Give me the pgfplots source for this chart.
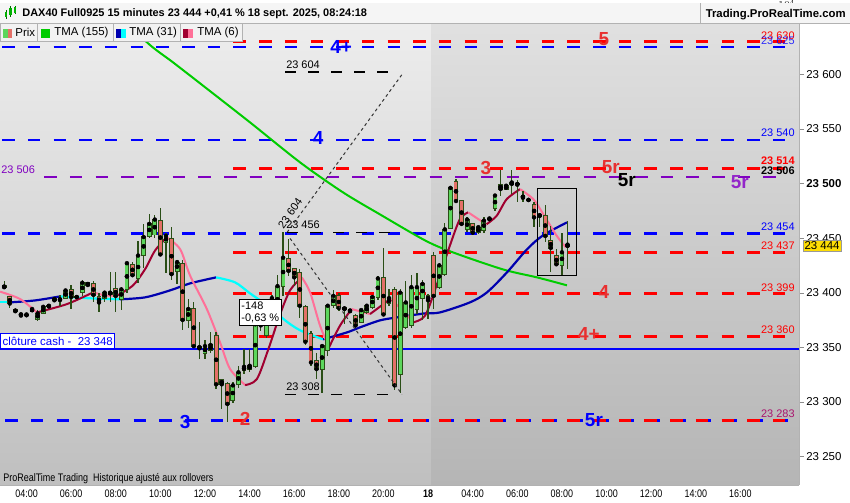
\documentclass[border=0pt]{standalone}
\usepackage{pgfplots}
\pgfplotsset{compat=1.18}
\usepackage{pgfplotstable}
\usepackage{fontspec}
\setmainfont{Liberation Sans}
\newfontfamily\narrow[FakeStretch=0.82]{Liberation Sans}

\definecolor{upfill}{RGB}{92,214,92}
\definecolor{dnfill}{RGB}{228,112,104}
\definecolor{wick}{RGB}{42,78,22}
\definecolor{lvblue}{RGB}{0,0,255}
\definecolor{lvred}{RGB}{255,0,0}
\definecolor{lvpurple}{RGB}{128,0,192}
\definecolor{tmag}{RGB}{0,204,0}
\definecolor{tmab}{RGB}{0,0,175}
\definecolor{tmac}{RGB}{0,255,255}
\definecolor{tmar}{RGB}{160,0,48}
\definecolor{tmap}{RGB}{255,112,152}
\definecolor{lblred}{RGB}{232,48,48}
\definecolor{mix}{RGB}{170,20,110}

% 15-minute candles, i = bar index (03:00 on the 17th = 0)
\pgfplotstableread{
i o h l c
0 23406 23411 23403 23405
1 23396 23397 23386 23390
2 23384 23385 23382 23383
3 23381 23381 23378 23379
4 23379 23381 23378 23380
5 23383 23386 23382 23385
6 23376 23384 23374 23381
7 23381 23388 23380 23387
8 23387 23389 23386 23388
9 23395 23396 23392 23393
10 23393 23398 23388 23394
11 23395 23403 23394 23402
12 23403 23407 23385 23396
13 23396 23397 23395 23396
14 23400 23412 23397 23409
15 23409 23410 23406 23407
16 23408 23411 23391 23398
17 23396 23400 23382 23391
18 23395 23401 23391 23400
19 23399 23419 23391 23400
20 23404 23419 23382 23397
21 23394 23405 23384 23403
22 23403 23428 23400 23427
23 23426 23428 23414 23416
24 23413 23447 23409 23434
25 23434 23463 23423 23451
26 23452 23472 23450 23463
27 23453 23471 23450 23467
28 23466 23478 23434 23435
29 23446 23455 23418 23452
30 23450 23460 23412 23417
31 23420 23430 23408 23428
32 23427 23430 23366 23375
33 23375 23394 23368 23385
34 23385 23391 23350 23351
35 23351 23373 23339 23349
36 23344 23357 23339 23351
37 23347 23364 23345 23352
38 23361 23364 23312 23316
39 23320 23321 23293 23316
40 23317 23318 23281 23298
41 23301 23318 23299 23315
42 23316 23333 23313 23327
43 23329 23348 23325 23332
44 23330 23348 23327 23333
45 23333 23382 23331 23371
46 23382 23385 23365 23370
47 23361 23386 23358 23383
48 23383 23398 23380 23395
49 23382 23416 23379 23406
50 23406 23456 23397 23432
51 23431 23449 23415 23420
52 23422 23423 23406 23414
53 23418 23422 23377 23388
54 23387 23389 23352 23355
55 23362 23365 23333 23336
56 23338 23345 23321 23330
57 23330 23353 23308 23351
58 23347 23390 23342 23388
59 23388 23402 23386 23397
60 23397 23400 23383 23386
61 23386 23387 23371 23385
62 23384 23385 23381 23383
63 23379 23380 23368 23370
64 23373 23385 23372 23384
65 23382 23390 23380 23388
66 23387 23398 23385 23396
67 23396 23415 23393 23413
68 23414 23441 23379 23380
69 23390 23403 23388 23395
70 23403 23405 23311 23315
71 23325 23403 23308 23400
72 23368 23411 23367 23391
73 23370 23416 23368 23405
74 23385 23418 23380 23405
75 23395 23412 23375 23408
76 23397 23399 23376 23393
77 23434 23437 23385 23397
78 23405 23427 23403 23425
79 23417 23464 23415 23458
80 23459 23498 23458 23496
81 23502 23504 23482 23484
82 23484 23485 23461 23463
83 23458 23469 23456 23467
84 23463 23464 23453 23455
85 23455 23461 23454 23460
86 23457 23469 23455 23466
87 23467 23469 23466 23468
88 23477 23490 23475 23489
89 23499 23512 23489 23495
90 23495 23500 23494 23498
91 23499 23512 23490 23501
92 23500 23503 23483 23499
93 23489 23493 23483 23487
94 23485 23486 23484 23485
95 23481 23483 23460 23469
96 23470 23472 23460 23471
97 23471 23480 23446 23452
98 23448 23461 23419 23441
99 23434 23440 23424 23426
100 23425 23455 23416 23437
101 23442 23466 23422 23444
}\candles

\begin{document}
\begin{tikzpicture}
\begin{scope}[x=1bp,y=1bp]
\useasboundingbox (0,0) rectangle (850,500);
\fill[white] (0,0) rectangle (850,500);
\shade[top color=black!7, bottom color=black!25] (0,17.3) rectangle (431,479);
\shade[top color=black!12, bottom color=black!29] (431,17.3) rectangle (799,479);
\end{scope}

\begin{axis}[
  at={(0bp,17.3bp)}, anchor=south west,
  width=799bp, height=461.7bp, scale only axis,
  xmin=-0.717, xmax=142.47, ymin=23223.7, ymax=23646.7,
  axis x line*=bottom, axis y line*=right,
  axis line style={draw=black!30, -},
  xtick={4,12,20,28,36,44,52,60,68,76,84,92,100,108,116,124,132},
  xticklabels={04:00,06:00,08:00,10:00,12:00,14:00,16:00,18:00,20:00,\textbf{18},04:00,06:00,08:00,10:00,12:00,14:00,16:00},
  xtick style={draw=none},
  x tick label style={font=\narrow\fontsize{11}{12}\selectfont, anchor=base, yshift=-12.5bp},
  ytick={23250,23300,23350,23400,23450,23500,23550,23600},
  yticklabels={23 250,23 300,23 350,23 400,23 450,\textbf{23 500},23 550,23 600},
  ytick align=outside, major tick length=5bp,
  ytick style={draw=black!45},
  y tick label style={font=\fontsize{11.5}{13}\selectfont, anchor=west, xshift=-1bp},
  clip=true,
]
% level lines
\addplot[lvblue, line width=2.5bp, dash pattern=on 12.5bp off 13.2bp, dash phase=23.7bp] coordinates {(-0.717,23625) (140.5,23625)};
\addplot[lvblue, line width=2.5bp, dash pattern=on 12.5bp off 13.2bp, dash phase=23.7bp] coordinates {(-0.717,23540) (140.5,23540)};
\addplot[lvblue, line width=2.5bp, dash pattern=on 12.5bp off 13.2bp, dash phase=23.7bp] coordinates {(-0.717,23454) (140.5,23454)};
\addplot[lvblue, line width=2.5bp, dash pattern=on 12.5bp off 13.2bp, dash phase=20.7bp] coordinates {(-0.717,23283) (140.5,23283)};
\addplot[lvred, line width=2.5bp, dash pattern=on 12.5bp off 13.2bp] coordinates {(41.1,23630) (140.5,23630)};
\addplot[lvred, line width=2.5bp, dash pattern=on 12.5bp off 13.2bp] coordinates {(41.1,23514) (140.5,23514)};
\addplot[lvred, line width=2.5bp, dash pattern=on 12.5bp off 13.2bp] coordinates {(41.1,23437) (140.5,23437)};
\addplot[lvred, line width=2.5bp, dash pattern=on 12.5bp off 13.2bp] coordinates {(41.1,23399) (140.5,23399)};
\addplot[lvred, line width=2.5bp, dash pattern=on 12.5bp off 13.2bp] coordinates {(41.1,23360) (140.5,23360)};
\addplot[lvred, line width=2.5bp, dash pattern=on 12.5bp off 13.2bp] coordinates {(41.1,23283) (140.5,23283)};
\addplot[lvpurple, line width=2.5bp, dash pattern=on 12.5bp off 13.2bp] coordinates {(7.17,23506) (140.5,23506)};
\addplot[lvblue, line width=2bp] coordinates {(-0.717,23348) (142.47,23348)};

% TMA (155)
\addplot[tmag, line width=2bp, smooth] coordinates {
(20.79,23656.8) (25.63,23629.3) (30.29,23611) (35.13,23591.8) (44.09,23556) (53.05,23519.4)
(60.75,23491.9) (67.38,23471.7) (75.45,23447.9) (80.47,23436.9) (89.43,23421.3) (95.52,23414) (100.9,23406.7)};

% TMA (31)
\addplot[tmac, line width=2.2bp, smooth] coordinates {(-0.72,23391.1) (1.08,23391.1)};
\addplot[tmab, line width=2.2bp, smooth] coordinates {(1.08,23391.1) (5.56,23392.9) (10.04,23396.6)};
\addplot[tmac, line width=2.2bp, smooth] coordinates {(10.04,23396.6) (15.41,23394.8) (20.79,23393.9)};
\addplot[tmab, line width=2.2bp, smooth] coordinates {(20.79,23393.9) (25.27,23395.7) (29.75,23402.1) (33.33,23408.5) (37.99,23414)};
\addplot[tmac, line width=2.2bp, smooth] coordinates {(37.99,23414) (41.4,23409.4) (44.09,23399.3) (47.67,23386.5) (50.36,23374.6) (53.05,23365.5) (57.17,23357.2)};
\addplot[tmab, line width=2.2bp, smooth] coordinates {(57.17,23357.2) (61.47,23363.6) (63.8,23368.2) (67.38,23374.6) (70.43,23377.3) (75.45,23381) (78.14,23381.9)
 (83.51,23391.1) (86.56,23400.3) (90.14,23418.6) (93.73,23439.7) (96.6,23452.5) (100.9,23464.4)};

% TMA (6)
\addplot[tmap, line width=2bp, smooth] coordinates {(-0.72,23400.9) (2.87,23394.1) (5.86,23381.9)};
\addplot[tmar, line width=2bp, smooth] coordinates {(5.86,23381.9) (11.24,23389.5) (15.95,23400.3)};
\addplot[tmap, line width=2bp, smooth] coordinates {(15.95,23400.3) (18.1,23397.5) (20.2,23397.2)};
\addplot[tmar, line width=2bp, smooth] coordinates {(20.2,23397.2) (23.1,23406.7) (25.27,23421.6) (27.06,23438.7) (29.16,23450.7)};
\addplot[tmap, line width=2bp, smooth] coordinates {(29.16,23450.7) (31.54,23439.9) (33.33,23415.6) (36.33,23385) (38.7,23354.4) (40.5,23330) (43.2,23315.3)};
\addplot[tmar, line width=2bp, smooth] coordinates {(43.2,23315.3) (45.3,23320.8) (47.37,23348.3) (49.46,23380.1) (51.25,23402.1) (53.35,23414)};
\addplot[tmap, line width=2bp, smooth] coordinates {(53.35,23414) (54.84,23400.3) (56.63,23369.7) (58.24,23349.9)};
\addplot[tmar, line width=2bp, smooth] coordinates {(58.24,23349.9) (60.2,23369.7) (62.3,23385)};
\addplot[tmap, line width=2bp, smooth] coordinates {(62.3,23385) (63.8,23382.8) (65.6,23380.4)};
\addplot[tmar, line width=2bp, smooth] coordinates {(65.6,23380.4) (69.2,23394.1)};
\addplot[tmap, line width=2bp, smooth] coordinates {(69.2,23394.1) (71.5,23383.5) (73.3,23372.8)};
\addplot[tmar, line width=2bp, smooth] coordinates {(73.3,23372.8) (75.45,23378.9) (77.5,23406.4) (79.9,23443) (81.7,23467.4) (83.2,23473.6)};
\addplot[tmap, line width=2bp, smooth] coordinates {(83.2,23473.6) (85,23467.4) (86.5,23462.8)};
\addplot[tmar, line width=2bp, smooth] coordinates {(86.5,23462.8) (88.3,23470.5) (90.1,23485.7) (92.5,23494.9)};
\addplot[tmap, line width=2bp, smooth] coordinates {(92.5,23494.9) (94.86,23485.7) (96.65,23472) (99.05,23452.2) (100.7,23441.5)};

% candles: wicks, body outlines, body fills
\addplot[only marks, mark=none, error bars/.cd, y dir=both, y explicit, error mark=none,
  error bar style={line width=1.3bp, draw=wick}]
  table[x=i, y=c, y error plus expr=\thisrow{h}-\thisrow{c}, y error minus expr=\thisrow{c}-\thisrow{l}] {\candles};
\addplot[only marks, mark=none, error bars/.cd, y dir=both, y explicit, error mark=none,
  error bar style={line width=4.8bp, draw=wick}]
  table[x=i, y expr=(\thisrow{o}+\thisrow{c})/2, y error expr=abs(\thisrow{c}-\thisrow{o})/2+0.6] {\candles};
\addplot[only marks, mark=none, restrict expr to domain={\thisrow{c}-\thisrow{o}}{0.5:1000},
  error bars/.cd, y dir=both, y explicit, error mark=none,
  error bar style={line width=3bp, draw=upfill}]
  table[x=i, y expr=(\thisrow{o}+\thisrow{c})/2, y error expr=abs(\thisrow{c}-\thisrow{o})/2-0.3] {\candles};
\addplot[only marks, mark=none, restrict expr to domain={\thisrow{o}-\thisrow{c}}{0.5:1000},
  error bars/.cd, y dir=both, y explicit, error mark=none,
  error bar style={line width=3bp, draw=dnfill}]
  table[x=i, y expr=(\thisrow{o}+\thisrow{c})/2, y error expr=abs(\thisrow{c}-\thisrow{o})/2-0.3] {\candles};
\end{axis}

\begin{scope}[x=1bp,y=1bp]
% measuring tool
\draw[black!80, line width=1bp, dash pattern=on 3bp off 3bp] (287,270) -- (402,428);
\draw[black!80, line width=1bp, dash pattern=on 3bp off 3bp] (290,264) -- (402,108);
\draw[black, line width=1.2bp, dash pattern=on 11bp off 12bp] (285,430.5) -- (395,430.5);
\draw[black, line width=1.2bp, dash pattern=on 11bp off 12bp] (287,270) -- (400,270);
\draw[black, line width=1.2bp, dash pattern=on 11bp off 12bp] (285,108) -- (400,108);
\begin{scope}[font=\fontsize{11}{12}\selectfont]
\node[anchor=west, inner sep=0] at (286,438) {23 604};
\node[anchor=west, inner sep=0] at (286,278) {23 456};
\node[anchor=west, inner sep=0] at (286,116) {23 308};
\node[rotate=55, inner sep=0] at (290,289) {23 604};
\end{scope}

% boxes
\node[draw=black, fill=white, line width=0.8bp, align=left, inner sep=2bp, anchor=north west,
  font=\fontsize{11}{12.5}\selectfont] at (239,203) {-148\\-0,63 \%};
\node[draw=lvblue, fill=white, line width=1bp, inner sep=2bp, anchor=south west, text=lvblue,
  font=\fontsize{11.5}{13}\selectfont, minimum height=15bp] at (0,153) {clôture cash -\ \ 23 348};
\draw[black, line width=1bp] (538,227) rectangle (577,314);

% level labels on the right
\begin{scope}[font=\fontsize{11}{12}\selectfont, inner sep=0]
\node[anchor=east, text=lvred] at (795,467) {23 630};
\node[anchor=east, text=lvblue, opacity=0.8] at (795,462) {23 625};
\node[anchor=east, text=lvblue] at (795,370) {23 540};
\node[anchor=east, text=lvred] at (795,342) {\bfseries 23 514};
\node[anchor=east, text=black] at (795,332) {\bfseries 23 506};
\node[anchor=east, text=lvblue] at (795,276) {23 454};
\node[anchor=east, text=lvred] at (795,257) {23 437};
\node[anchor=east, text=lvred] at (795,215) {23 399};
\node[anchor=east, text=lvred] at (795,173) {23 360};
\node[anchor=east, text=mix] at (795,89) {23 283};
\node[anchor=west, text=lvpurple] at (1,333) {23 506};
\end{scope}

% wave labels
\begin{scope}[font=\bfseries\fontsize{19}{20}\selectfont, inner sep=0]
\node[text=lvblue] at (341,456) {4+};
\node[text=lblred] at (604,463) {5};
\node[text=lvblue] at (318,364) {4};
\node[text=lblred] at (486,334) {3};
\node[text=lblred] at (611,335) {5r};
\node[text=black] at (627,322) {5r};
\node[text=lvpurple!85!white] at (740,320) {5r};
\node[text=lblred] at (604,210) {4};
\node[text=lblred] at (589,168) {4+};
\node[text=lvblue] at (185,80) {3};
\node[text=lblred] at (245,83) {2};
\node[text=lvblue] at (594,82) {5r};
\end{scope}

% current price tag
\node[fill=yellow!80!orange, draw=black!40, inner sep=1.5bp, anchor=west,
  font=\fontsize{11.5}{13}\selectfont] at (803,256.5) {23 444};

% bottom note
\node[anchor=west, inner sep=0, font=\narrow\fontsize{11}{12}\selectfont] at (3,24) {ProRealTime Trading\ \ Historique ajusté aux rollovers};

% header
\fill[black!4] (0,479) rectangle (850,500);
\draw[black!30] (0,479) -- (850,479);
\draw[black!30] (700,479) -- (700,500);
\foreach \xx/\lo/\hi/\bl/\bh in {6/484/493/486/491, 10.5/486/497/488/495, 15/489/497/490/496}
  {\draw[black!60!green, line width=0.8bp] (\xx,\lo) -- (\xx,\hi);
   \fill[green!70!black] (\xx-1.3,\bl) rectangle (\xx+1.3,\bh);}
\node[anchor=west, inner sep=0, font=\bfseries\fontsize{11}{13}\selectfont] at (22,489) {DAX40 Full0925 15 minutes 23 444 +0,41 \% 18 sept. 2025, 08:24:18};
\node[anchor=east, inner sep=0, font=\bfseries\fontsize{11.4}{13}\selectfont] at (846,488) {Trading.ProRealTime.com};

% legend row
\begin{scope}[font=\fontsize{11.5}{13}\selectfont]
\filldraw[fill=black!5, draw=black!30] (0,461) rectangle (37,479);
\filldraw[fill=black!5, draw=black!30] (37,461) rectangle (113,479);
\filldraw[fill=black!5, draw=black!30] (113,461) rectangle (180,479);
\filldraw[fill=black!5, draw=black!30] (180,461) rectangle (242,479);
\fill[upfill] (3,465) rectangle (7.5,474); \fill[dnfill] (7.5,465) rectangle (12,474);
\fill[tmag] (41,465) rectangle (50,474);
\fill[tmab] (116,465) rectangle (121,474); \fill[tmac] (121,465) rectangle (126,474);
\fill[tmar] (183,465) rectangle (188,474); \fill[tmap] (188,465) rectangle (193,474);
\node[anchor=west, inner sep=0] at (15,470) {Prix};
\node[anchor=west, inner sep=0] at (54,470) {TMA (155)};
\node[anchor=west, inner sep=0] at (129,470) {TMA (31)};
\node[anchor=west, inner sep=0] at (197,470) {TMA (6)};
\end{scope}
\end{scope}
\end{tikzpicture}
\end{document}
